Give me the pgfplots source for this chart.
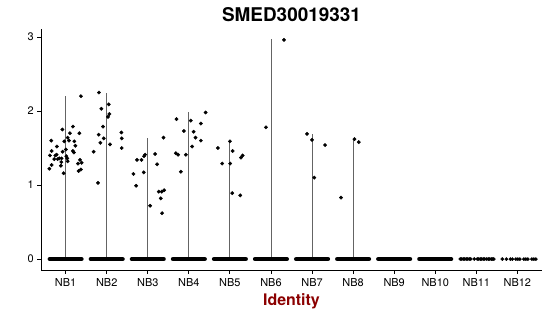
\documentclass[border=0pt]{standalone}
\usepackage{pgfplots}
\pgfplotsset{compat=1.18}
\usepackage{fontspec}
\setmainfont{TeX Gyre Heros}
\definecolor{dred}{RGB}{139,0,0}
\definecolor{vline}{RGB}{100,100,100}
\begin{document}
\begin{tikzpicture}
\begin{axis}[
  scale only axis,
  width=501bp, height=241bp,
  xmin=0.4, xmax=12.6,
  ymin=-0.148, ymax=3.108,
  axis x line*=bottom, axis y line*=left,
  axis line style={line width=0.9bp, black},
  xtick={1,...,12},
  xticklabels={NB1,NB2,NB3,NB4,NB5,NB6,NB7,NB8,NB9,NB10,NB11,NB12},
  ytick={0,1,2,3},
  tick align=outside,
  major tick length=3.5bp,
  tick style={line width=0.9bp, black},
  /pgf/number format/assume math mode=true,
  tick label style={font=\fontsize{11}{13}\selectfont, inner sep=0pt, text=black},
  xticklabel style={anchor=base, yshift=-12.9bp},
  yticklabel style={anchor=east, xshift=-3.5bp},
  title={SMED30019331},
  title style={font=\fontsize{19}{22}\selectfont\bfseries, at={(0.5,1)}, anchor=base, yshift=1.3bp, inner sep=0pt},
  xlabel={Identity},
  xlabel style={font=\fontsize{16}{19}\selectfont\bfseries, text=dred, at={(0.5,0)}, anchor=base, yshift=-35.8bp, inner sep=0pt},
  clip=false,
]
% violin bodies (very narrow, drawn as thin lines)
\addplot[vline, line width=0.9bp] coordinates {(1,0) (1,2.20)};
\addplot[vline, line width=0.9bp] coordinates {(2,0) (2,2.24)};
\addplot[vline, line width=0.9bp] coordinates {(3,0) (3,1.64)};
\addplot[vline, line width=0.9bp] coordinates {(4,0) (4,1.98)};
\addplot[vline, line width=0.9bp] coordinates {(5,0) (5,1.59)};
\addplot[vline, line width=0.9bp] coordinates {(6,0) (6,2.97)};
\addplot[vline, line width=0.9bp] coordinates {(7,0) (7,1.69)};
\addplot[vline, line width=0.9bp] coordinates {(8,0) (8,1.62)};
% dense bands of zero-valued cells
\foreach \c in {1,...,10}{
  \addplot[black, line width=4.5bp, line cap=round] coordinates {(\c-0.385,0) (\c+0.385,0)};
}
% sparse zero-valued cells
\addplot[only marks, mark=*, mark size=1.6bp, black] coordinates {
(10.610,0) (10.646,0) (10.683,0) (10.720,0) (10.756,0) (10.793,0) (10.829,0) (10.866,0)
(10.951,0) (11.024,0) (11.061,0) (11.098,0) (11.134,0) (11.171,0) (11.207,0)
(11.256,0) (11.293,0) (11.329,0) (11.366,0) (11.402,0) (11.427,0)
(11.634,0) (11.732,0) (11.829,0) (11.878,0) (11.963,0) (12.012,0) (12.061,0)
(12.159,0) (12.207,0) (12.256,0) (12.354,0) (12.402,0) (12.451,0)
};
% non-zero cells
\addplot[only marks, mark=*, mark size=1.7bp, black] coordinates {
(1.373,2.20) (0.920,1.75) (1.178,1.79) (1.105,1.70) (1.334,1.70) (1.049,1.64)
(0.651,1.60) (0.968,1.59) (1.080,1.60) (1.212,1.59) (1.237,1.53) (0.788,1.52)
(1.007,1.48) (1.178,1.46) (0.659,1.46) (0.927,1.45) (1.202,1.44) (0.780,1.41)
(0.617,1.40) (0.749,1.40) (1.017,1.39) (0.846,1.36) (0.724,1.35) (0.902,1.36)
(1.041,1.36) (0.805,1.35) (1.349,1.34) (1.390,1.30) (0.895,1.31) (1.049,1.32)
(1.300,1.29) (0.659,1.27) (0.885,1.26) (0.602,1.22) (1.373,1.21) (1.317,1.19)
(0.951,1.16)
(1.812,2.25) (2.049,2.09) (1.871,2.03) (2.066,1.96) (2.032,1.92) (1.910,1.79)
(2.359,1.71) (1.805,1.68) (1.927,1.63) (2.366,1.63) (1.846,1.57) (2.080,1.55)
(2.366,1.50) (1.683,1.45) (1.788,1.03)
(3.383,1.64) (3.178,1.42) (2.934,1.41) (2.910,1.39) (2.846,1.34) (2.739,1.34)
(3.227,1.28) (2.651,1.15) (2.902,1.17) (2.715,0.99) (3.398,0.93) (3.268,0.91)
(3.341,0.91) (3.317,0.82) (3.056,0.72) (3.349,0.62)
(4.407,1.98) (3.700,1.89) (4.049,1.87) (4.293,1.83) (3.878,1.73) (4.115,1.72)
(4.163,1.64) (4.293,1.60) (4.080,1.52) (3.683,1.43) (3.739,1.41) (3.927,1.41)
(3.805,1.18)
(5.000,1.59) (4.707,1.50) (5.066,1.46) (5.310,1.40) (5.268,1.37) (4.812,1.29)
(5.007,1.29) (5.056,0.89) (5.251,0.86)
(6.317,2.96) (5.878,1.78)
(6.878,1.69) (7.000,1.61) (7.317,1.54) (7.056,1.10)
(8.032,1.62) (8.139,1.58) (7.707,0.83)
};
\end{axis}
\path (current axis.south west) ++(-41bp,-46bp) coordinate (bbA);
\path (current axis.north east) ++(8bp,29bp) coordinate (bbB);
\path (bbA) rectangle (bbB);
\end{tikzpicture}
\end{document}
